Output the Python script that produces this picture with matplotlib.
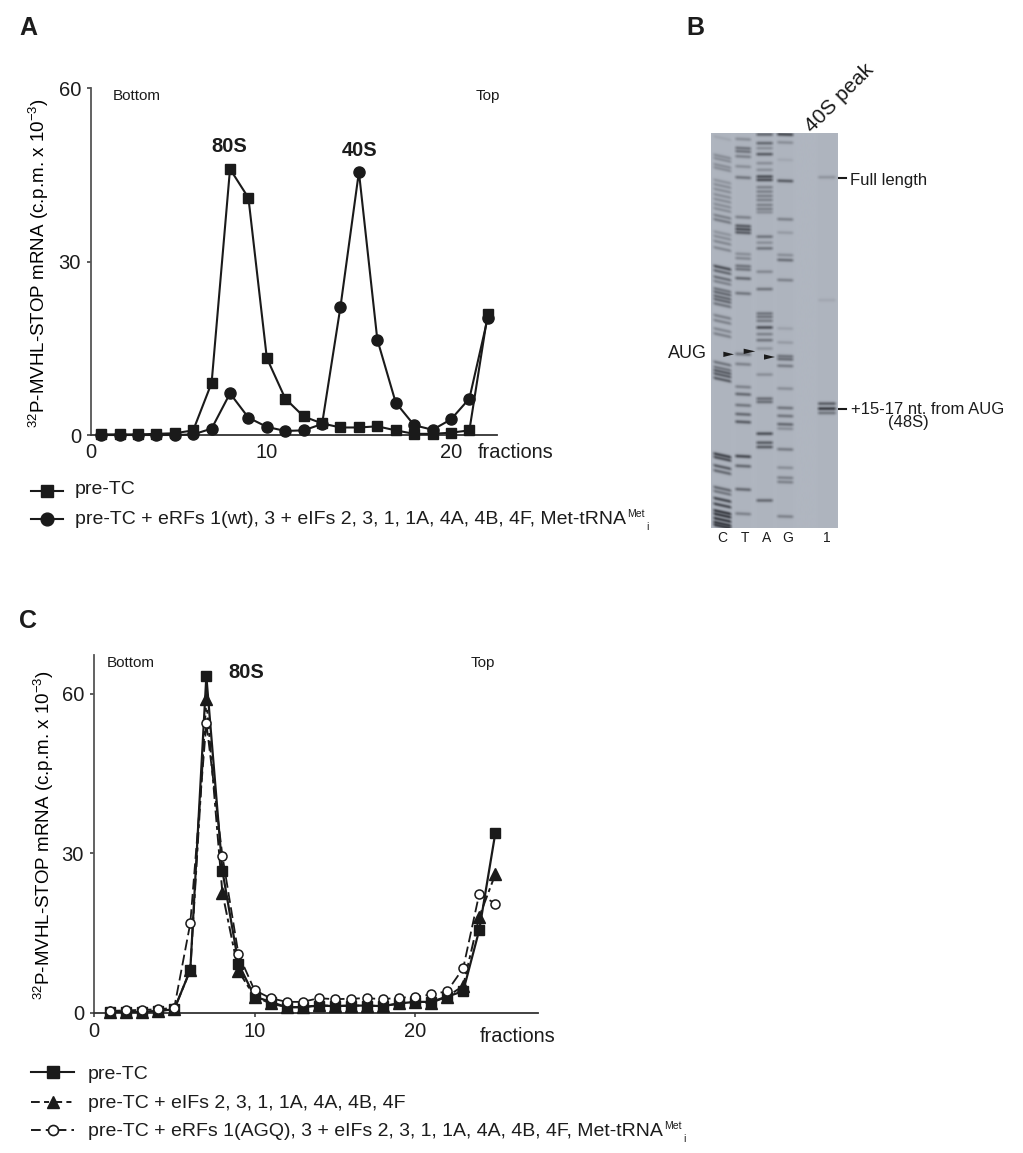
import numpy as np
import matplotlib
matplotlib.use("Agg")
import matplotlib.pyplot as plt

W, H = 1023, 1153
plt.rcParams.update({
    "font.family": ["Liberation Sans", "DejaVu Sans"],
    "mathtext.fontset": "custom",
    "mathtext.rm": "Liberation Sans",
    "mathtext.default": "regular",
    "axes.linewidth": 1.3,
    "text.color": "#1c1c1c",
})

# ---- Panel A data
fractions_a = list(range(1, 23))
a_pre_tc = [0.1, 0.1, 0.1, 0.2, 0.3, 0.8, 9, 46, 41, 13.3, 6.3, 3.2, 2, 1.3, 1.3, 1.5, 0.8, 0.2, 0.2, 0.4, 0.8, 21]
a_erfs = [0, 0, 0, 0, 0, 0.1, 1.1, 7.2, 3, 1.4, 0.7, 0.8, 1.9, 22.2, 45.5, 16.5, 5.6, 1.7, 0.9, 2.7, 6.3, 20.3]
# ---- Panel C data
fractions_c = list(range(1, 26))
c_pre_tc = [0.1, 0.1, 0.1, 0.3, 0.6, 8, 63.3, 26.7, 9.2, 3, 2, 1, 1, 1.3, 1.2, 1.3, 1.3, 1.2, 1.7, 2, 2, 3, 4, 15.5, 33.7]
c_eifs = [0.1, 0.1, 0.1, 0.3, 0.6, 8, 59, 22.5, 7.8, 3, 1.7, 1, 1, 1.4, 1.2, 1.3, 1.3, 1.2, 1.7, 2, 1.8, 3, 5, 18, 26]
c_agq = [0.3, 0.4, 0.5, 0.6, 0.9, 16.8, 54.5, 29.5, 11, 4.2, 2.7, 2, 2, 2.7, 2.5, 2.6, 2.7, 2.5, 2.8, 2.9, 3.4, 4, 8.3, 22.3, 20.5]

legend_a = ["pre-TC",
            "pre-TC + eRFs 1(wt), 3 + eIFs 2, 3, 1, 1A, 4A, 4B, 4F, Met-tRNA"]
legend_c = ["pre-TC",
            "pre-TC + eIFs 2, 3, 1, 1A, 4A, 4B, 4F",
            "pre-TC + eRFs 1(AGQ), 3 + eIFs 2, 3, 1, 1A, 4A, 4B, 4F, Met-tRNA"]
ylabel = "$^{32}$P-MVHL-STOP mRNA (c.p.m. x 10$^{-3}$)"

# ---- Panel B gel: band centre (scan row) and darkness, per lane
lane_names = ["C", "T", "A", "G", "1"]
lane_c_pos = [235, 290, 300, 318, 328, 365, 378, 392, 408, 422, 437, 450, 470, 483, 520, 533, 548, 567, 623, 636, 655, 668, 690, 700, 712, 722, 735, 770, 785, 810, 825, 910, 925, 935, 945, 958, 1185, 1195, 1220, 1235, 1285, 1297, 1318, 1335, 1355, 1365, 1378, 1390, 1398]
lane_c_val = [.1, .3, .3, .3, .3, .25, .3, .3, .3, .3, .3, .3, .4, .45, .25, .3, .35, .35, .8, .6, .55, .4, .5, .6, .6, .6, .5, .4, .4, .35, .4, .5, .5, .7, .7, .7, .9, .8, .7, .6, .6, .5, .85, .85, 1, 1, 1, 1, 1]
lane_t_pos = [238, 265, 275, 290, 320, 353, 472, 498, 508, 518, 582, 595, 618, 628, 655, 700, 882, 912, 980, 1002, 1035, 1062, 1085, 1188, 1217, 1287, 1360]
lane_t_val = [.3, .5, .5, .4, .3, .5, .4, .7, .8, .7, .3, .35, .5, .5, .6, .5, .5, .4, .4, .6, .5, .6, .7, .85, .6, .6, .4]
lane_a_pos = [224, 250, 265, 283, 310, 330, 350, 360, 382, 395, 408, 420, 435, 447, 457, 530, 548, 565, 635, 687, 760, 770, 782, 802, 822, 840, 865, 943, 1015, 1025, 1120, 1147, 1160, 1320]
lane_a_val = [.6, .6, .3, .7, .3, .3, .8, .8, .4, .4, .4, .4, .4, .4, .3, .5, .3, .5, .35, .5, .5, .5, .45, .8, .4, .5, .25, .3, .55, .55, .8, .7, .7, .6]
lane_g_pos = [224, 248, 300, 363, 478, 518, 585, 600, 660, 805, 847, 888, 897, 917, 985, 1043, 1067, 1092, 1105, 1167, 1222, 1252, 1265, 1368]
lane_g_val = [.85, .3, .1, .7, .4, .2, .3, .55, .4, .15, .2, .5, .55, .45, .3, .5, .5, .6, .3, .45, .3, .4, .4, .4]
lane_1_pos = [352, 720, 1030, 1045, 1058]
lane_1_val = [.25, .1, .7, 1, .5]
lane_spans = [(160, 213), (225, 272), (288, 337), (350, 398), (472, 525)]
lane_slant = [0.22, 0.05, 0.0, 0.03, 0.0]
lanes = [(lane_c_pos, lane_c_val), (lane_t_pos, lane_t_val), (lane_a_pos, lane_a_val),
         (lane_g_pos, lane_g_val), (lane_1_pos, lane_1_val)]

fig = plt.figure(figsize=(W / 100, H / 100), dpi=100, facecolor="white")


def add_axes_px(l, t, r, b, **kw):
    return fig.add_axes([l / W, 1 - b / H, (r - l) / W, (b - t) / H], **kw)


def ftext(x, y, s, **kw):
    kw.setdefault("va", "center")
    return fig.text(x / W, 1 - y / H, s, **kw)


def style(ax):
    ax.spines["top"].set_visible(False)
    ax.spines["right"].set_visible(False)
    ax.spines["left"].set_color("#555555")
    ax.spines["bottom"].set_color("#333333")
    ax.patch.set_alpha(0)
    ax.tick_params(labelsize=14.5, length=3.2, width=1.1, color="#333333", pad=4, labelcolor="#1c1c1c")


# ---- Panel A
axa = add_axes_px(91, 88, 497, 435)
axa.set_xlim(0.45, 22.5)
axa.set_ylim(0, 60)
axa.plot(fractions_a, a_pre_tc, "-s", color="#1a1a1a", lw=1.5, ms=7.8, clip_on=False, zorder=4)
axa.plot(fractions_a, a_erfs, "-o", color="#1a1a1a", lw=1.5, ms=8, clip_on=False, zorder=3)
style(axa)
axa.set_yticks([0, 30, 60])
axa.set_xticks([0.45, 10, 20], ["0", "10", "20"])
axa.tick_params(axis="x", length=0, pad=6)
axa.set_ylabel(ylabel, fontsize=13.5, va="center")
axa.yaxis.set_label_coords((39 - 91) / 406, 0.5 - 2 / 347)

# ---- Panel C
axc = add_axes_px(94, 655, 538, 1012.5)
axc.set_xlim(0, (538 - 94) / 16.05)
axc.set_ylim(0, 67.3)
axc.plot(fractions_c, c_pre_tc, "-s", color="#1a1a1a", lw=1.6, ms=7, clip_on=False, zorder=3)
axc.plot(fractions_c, c_eifs, color="#1a1a1a", marker="^", lw=1.4, ms=8, dashes=(6, 2, 2, 2), clip_on=False, zorder=4)
axc.plot(fractions_c, c_agq, color="#1a1a1a", marker="o", mfc="white", mew=1.1, lw=1.3, ms=6.5, dashes=(6, 2.5), clip_on=False, zorder=5)
style(axc)
axc.set_yticks([0, 30, 60])
axc.set_xticks([0, 10, 20])
axc.tick_params(axis="x", length=3, pad=4)
axc.set_ylabel(ylabel, fontsize=13.5, va="center")
axc.yaxis.set_label_coords((44 - 94) / 444, 0.5 - 1 / 357)

# ---- Panel B gel
gl, gr, gt, gb = 153, 532, 220, 1403
zoom_x = lambda v: 660 + v / 3
zoom_y = lambda v: 60 + v / 3
axb = add_axes_px(zoom_x(gl), zoom_y(gt), zoom_x(gr), zoom_y(gb))
cols = np.arange(gl, gr, 1.0)
rows = np.arange(gt, gb, 1.0)
xx, yy = np.meshgrid(cols, rows)
clear = np.ones_like(xx)
for (pos, val), (a, b), sl in zip(lanes, lane_spans, lane_slant):
    mid = (a + b) / 2
    half = (b - a) / 2
    prof = np.clip((half + 5 - np.abs(xx - mid)) / 11, 0, 1)
    clear *= 1 - 0.012 * prof
    for p, v in zip(pos, val):
        c = p + sl * (xx - mid)
        clear *= 1 - 0.72 * v * prof * np.exp(-((yy - c) / 5.4) ** 2)
dark = 1 - clear
base = np.array([176, 182, 192]) / 255
ink = np.array([22, 24, 30]) / 255
img = base[None, None, :] * (1 - dark[..., None]) + ink[None, None, :] * dark[..., None]
axb.imshow(img, extent=(gl, gr, gb, gt), aspect="auto", interpolation="antialiased")
axb.axis("off")

ov = fig.add_axes([0, 0, 1, 1], zorder=10)
ov.set_xlim(0, W)
ov.set_ylim(H, 0)
ov.axis("off")
for tip_x, tail_x, y in [(222, 190, 883), (286, 251, 874), (345, 312, 891)]:
    ov.fill([zoom_x(tail_x), zoom_x(tip_x), zoom_x(tail_x)],
            [zoom_y(y - 8), zoom_y(y), zoom_y(y + 8)], color="#1a1a1a", lw=0)
ov.plot([839, 846], [177.5, 177.5], color="#1a1a1a", lw=1.5)
ov.plot([839, 846], [409, 409], color="#1a1a1a", lw=1.5)

# ---- Legends (keys and labels set row by row to hold an even spacing)
key_kw = dict(color="#1a1a1a", clip_on=False)
renderer = fig.canvas.get_renderer()


def legend_row(x0, x1, xt, y, base_y, label, style_kw):
    ov.plot([x0, (x0 + x1) / 2, x1], [y, y, y], markevery=[1], **key_kw, **style_kw)
    t = ftext(xt, base_y, label, fontsize=14, va="baseline")
    if label.endswith("tRNA"):
        end = t.get_window_extent(renderer).x1
        ftext(end + 1, base_y - 10, "Met", fontsize=7.5, va="center")
        ftext(end + 20, base_y + 3, "i", fontsize=7.5, va="center")


for y, by, lab, kw in zip([491, 519], [494, 524], legend_a,
                          [dict(marker="s", lw=1.5, ms=8.4), dict(marker="o", lw=1.5, ms=9.2)]):
    legend_row(31, 63, 75, y, by, lab, kw)
for y, by, lab, kw in zip([1072, 1102, 1130], [1079, 1108, 1136], legend_c,
                          [dict(marker="s", lw=1.5, ms=8),
                           dict(marker="^", lw=1.4, ms=8.6, dashes=(4.5, 2.2, 2.6, 2.2)),
                           dict(marker="o", mfc="white", mew=1.2, lw=1.4, ms=7.2, dashes=(5, 2.6, 3, 2.6))]):
    legend_row(31, 74, 88, y, by, lab, kw)

for name, cx in zip(lane_names, [722, 745, 767, 788, 827]):
    ftext(cx, 538, name, fontsize=10, ha="center")
ftext(850, 180, "Full length", fontsize=12)
ftext(851, 409, "+15-17 nt. from AUG", fontsize=12)
ftext(908, 423, "(48S)", fontsize=12, ha="center")
ftext(668, 353, "AUG", fontsize=13)
ftext(840, 98, "40S peak", fontsize=15, rotation=45, ha="center")

# ---- Annotations
ftext(19, 28, "A", fontsize=18, fontweight="bold")
ftext(686, 28, "B", fontsize=18, fontweight="bold")
ftext(19, 621, "C", fontsize=18, fontweight="bold")
ftext(113, 96, "Bottom", fontsize=11)
ftext(476, 96, "Top", fontsize=11)
ftext(229, 147, "80S", fontsize=14.5, fontweight="bold", ha="center")
ftext(360, 151, "40S", fontsize=14.5, fontweight="bold", ha="center")
ftext(478, 453, "fractions", fontsize=14.4)
ftext(107, 663, "Bottom", fontsize=11)
ftext(471, 663, "Top", fontsize=11)
ftext(246, 673, "80S", fontsize=14.5, fontweight="bold", ha="center")
ftext(480, 1037, "fractions", fontsize=14.4)

fig.savefig("out.png", dpi=100, facecolor="white")
